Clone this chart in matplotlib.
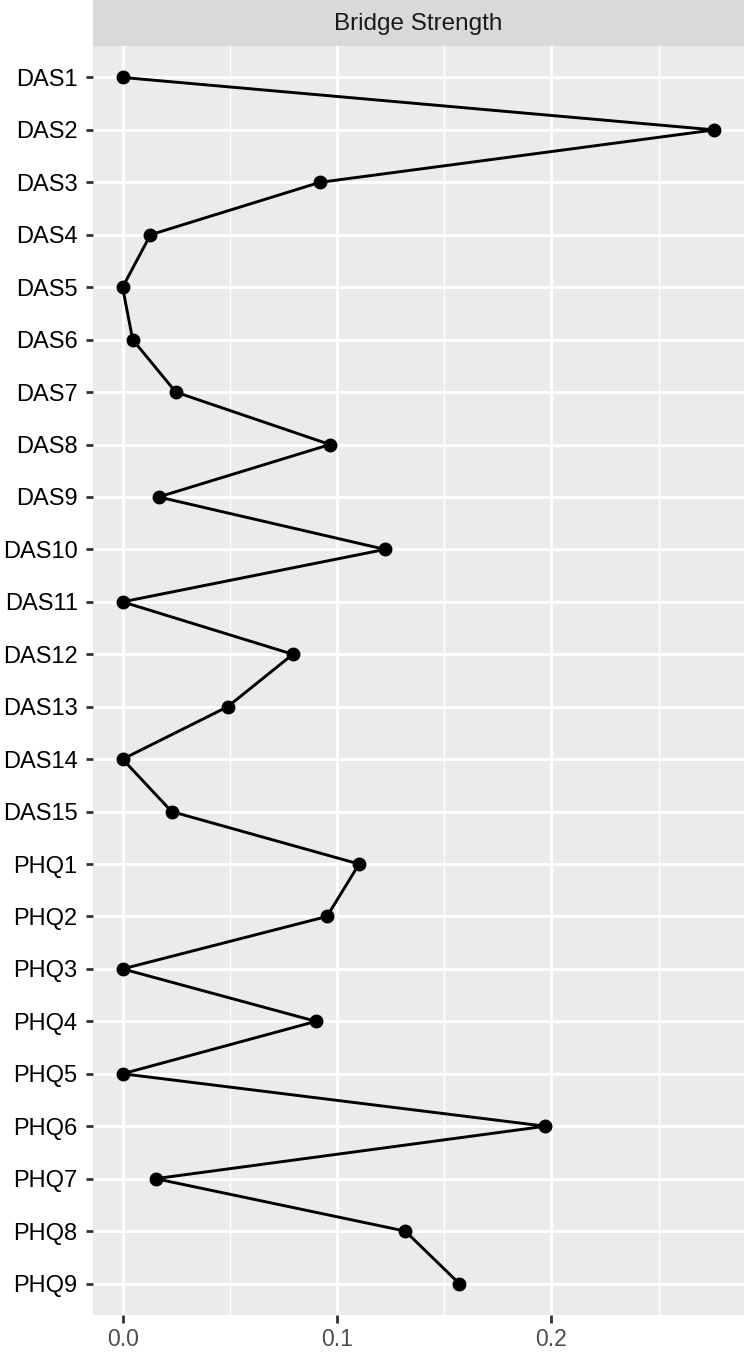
import matplotlib
matplotlib.use("Agg")
import matplotlib.pyplot as plt
from matplotlib.ticker import MultipleLocator

# Data
nodes = ["DAS1", "DAS2", "DAS3", "DAS4", "DAS5", "DAS6", "DAS7", "DAS8",
         "DAS9", "DAS10", "DAS11", "DAS12", "DAS13", "DAS14", "DAS15",
         "PHQ1", "PHQ2", "PHQ3", "PHQ4", "PHQ5", "PHQ6", "PHQ7", "PHQ8", "PHQ9"]
bridge_strength = [0.0, 0.276, 0.092, 0.013, 0.0, 0.0047, 0.0248, 0.0967,
                   0.0168, 0.1224, 0.0, 0.0794, 0.049, 0.0, 0.0229,
                   0.1103, 0.0953, 0.0, 0.0902, 0.0, 0.1972, 0.0154, 0.1318, 0.157]
x_ticks = [0.0, 0.1, 0.2]
x_ticklabels = ["0.0", "0.1", "0.2"]

plt.rcParams['font.family'] = ['Liberation Sans', 'DejaVu Sans']

W, H = 744, 1356
fig = plt.figure(figsize=(W / 100, H / 100), dpi=100)

panel_left, panel_right = 93 / W, 1.0
panel_top, panel_bottom = 1 - 46 / H, 1 - 1315 / H
ax = fig.add_axes([panel_left, panel_bottom, panel_right - panel_left, panel_top - panel_bottom])
ax.set_facecolor("#EBEBEB")

ypos = list(range(len(nodes)))
ax.plot(bridge_strength, ypos, color="black", lw=2.1, zorder=3)
ax.plot(bridge_strength, ypos, "o", color="black", markersize=9, zorder=4)

# ggplot style expansion
xmin, xmax = min(bridge_strength), max(bridge_strength)
pad = 0.05 * (xmax - xmin)
ax.set_xlim(xmin - pad, xmax + pad)
ax.set_ylim(len(nodes) - 1 + 0.6, -0.6)

ax.set_xticks(x_ticks)
ax.set_xticklabels(x_ticklabels)
ax.xaxis.set_minor_locator(MultipleLocator(0.05))
ax.set_yticks(ypos)
ax.set_yticklabels(nodes)

ax.grid(True, which="major", color="white", lw=2.1, zorder=0)
ax.grid(True, which="minor", axis="x", color="white", lw=1.0, zorder=0)
ax.set_axisbelow(True)
for s in ax.spines.values():
    s.set_visible(False)

ax.tick_params(axis="both", which="major", width=2, color="#333333")
ax.tick_params(axis="x", which="minor", length=0)
ax.tick_params(axis="y", length=5, pad=6, labelcolor="black", labelsize=17)
ax.tick_params(axis="x", length=5.5, pad=4, labelcolor="#4D4D4D", labelsize=16.5)

# Facet strip
strip = fig.add_axes([panel_left, panel_top, panel_right - panel_left, 1 - panel_top])
strip.set_facecolor("#D9D9D9")
strip.set_xticks([])
strip.set_yticks([])
for s in strip.spines.values():
    s.set_visible(False)
strip.text(0.5, 0.47, "Bridge Strength", ha="center", va="center",
           fontsize=17.5, color="#1A1A1A", transform=strip.transAxes)

fig.savefig("out.png", dpi=100)
